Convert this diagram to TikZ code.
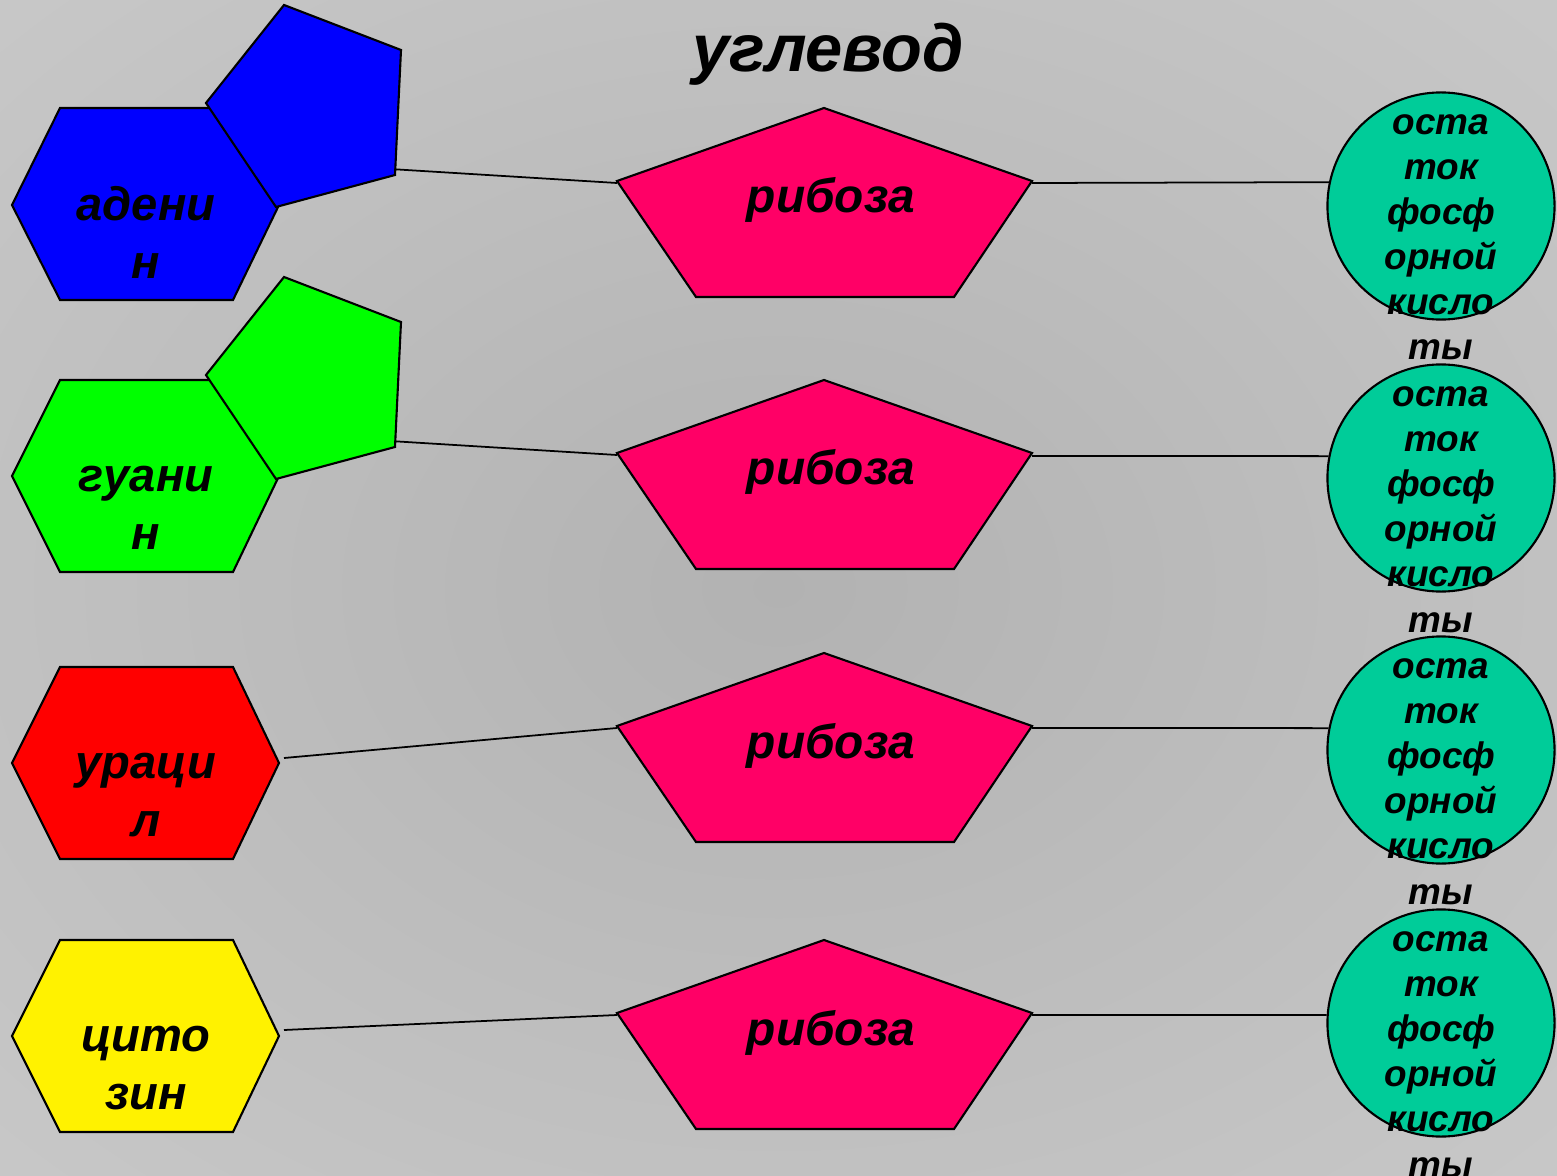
\documentclass[tikz,border=0pt]{standalone}
\usepackage{fontspec}
\setmainfont{Liberation Sans}
\pgfdeclarelayer{bglayer}
\pgfdeclarelayer{edgelayer}
\pgfdeclarelayer{nodelayer}
\pgfsetlayers{bglayer,edgelayer,nodelayer,main}
\definecolor{ribose}{RGB}{255,0,102}
\definecolor{acid}{RGB}{0,204,153}
\definecolor{bglight}{RGB}{218,218,218}
\definecolor{bgdark}{RGB}{178,178,178}
\pgfdeclareradialshading{slide}{\pgfpoint{0bp}{0bp}}{color(0bp)=(bgdark); color(66bp)=(bglight)}
\tikzstyle{ring_shape}=[draw=black,line width=0.6pt,line join=miter]
\tikzstyle{sugar_shape}=[draw=black,line width=0.6pt,fill=ribose]
\tikzstyle{acid_state}=[circle,draw=black,line width=0.6pt,fill=acid,minimum size=2.27cm,inner sep=0pt]
\tikzstyle{base_text}=[anchor=base,align=center,inner sep=0pt,font=\fontsize{13.4}{16.3}\selectfont\bfseries\itshape]
\tikzstyle{sugar_text}=[anchor=base,inner sep=0pt,font=\fontsize{13.6}{16}\selectfont\bfseries\itshape]
\tikzstyle{acid_text}=[anchor=base,align=center,inner sep=0pt,font=\fontsize{10.5}{12.8}\selectfont\bfseries\itshape]
\tikzstyle{title_text}=[anchor=base,inner sep=0pt,font=\fontsize{19}{22}\selectfont\bfseries\itshape]
\tikzstyle{link}=[draw=black,line width=0.5pt]

\begin{document}
\begin{tikzpicture}[x=0.01cm,y=-0.01cm]
	\useasboundingbox (0,0) rectangle (1557,1176);
	\begin{pgfonlayer}{bglayer}
		\shade[shading=slide] (0,0) rectangle (1557,1176);
	\end{pgfonlayer}
	\begin{pgfonlayer}{nodelayer}
		% bases
		\draw [style={ring_shape}, fill=blue] (12,205) -- (60,108) -- (233,108) -- (279,205) -- (233,300) -- (60,300) -- cycle;
		\draw [style={ring_shape}, fill=blue] (284,5) -- (401,50) -- (395,175) -- (276,207) -- (206,103) -- cycle;
		\draw [style={ring_shape}, fill=green] (12,476) -- (60,380) -- (233,380) -- (279,476) -- (233,572) -- (60,572) -- cycle;
		\draw [style={ring_shape}, fill=green] (284,277) -- (401,322) -- (395,447) -- (276,479) -- (206,375) -- cycle;
		\draw [style={ring_shape}, fill=red] (12,763) -- (60,667) -- (233,667) -- (279,763) -- (233,859) -- (60,859) -- cycle;
		\draw [style={ring_shape}, fill=yellow] (12,1036) -- (60,940) -- (233,940) -- (279,1036) -- (233,1132) -- (60,1132) -- cycle;
		% sugars
		\draw [style={sugar_shape}] (824,108) -- (1032,181) -- (954,297) -- (696,297) -- (617,181) -- cycle;
		\draw [style={sugar_shape}] (824,380) -- (1032,453) -- (954,569) -- (696,569) -- (617,453) -- cycle;
		\draw [style={sugar_shape}] (824,653) -- (1032,726) -- (954,842) -- (696,842) -- (617,726) -- cycle;
		\draw [style={sugar_shape}] (824,940) -- (1032,1013) -- (954,1129) -- (696,1129) -- (617,1013) -- cycle;
		% phosphates
		\node [style={acid_state}] (9) at (1441,206) {};
		\node [style={acid_state}] (10) at (1441,478) {};
		\node [style={acid_state}] (11) at (1441,750) {};
		\node [style={acid_state}] (12) at (1441,1023) {};
	\end{pgfonlayer}
	\coordinate (a1) at (390,169);
	\coordinate (a2) at (390,441);
	\coordinate (a3) at (284,758);
	\coordinate (a4) at (284,1030);
	\coordinate (s1) at (617,183);
	\coordinate (s2) at (617,455);
	\coordinate (s3) at (617,728);
	\coordinate (s4) at (617,1015);
	\coordinate (t1) at (1032,183);
	\coordinate (t2) at (1032,456);
	\coordinate (t3) at (1032,728);
	\coordinate (t4) at (1032,1015);
	\begin{pgfonlayer}{edgelayer}
		\draw [style=link] (a1) to (s1);
		\draw [style=link] (a2) to (s2);
		\draw [style=link] (a3) to (s3);
		\draw [style=link] (a4) to (s4);
		\draw [style=link] (t1) to (9.168);
		\draw [style=link] (t2) to (10.169);
		\draw [style=link] (t3) to (11.169);
		\draw [style=link] (t4) to (12.176);
	\end{pgfonlayer}
	\node [style={title_text}] (0) at (828,72) {углевод};
	\node [style={base_text}] (1) at (146,278) {адени\\н};
	\node [style={base_text}] (2) at (146,549) {гуани\\н};
	\node [style={base_text}] (3) at (146,836) {ураци\\л};
	\node [style={base_text}] (4) at (146,1109) {цито\\зин};
	\node [style={sugar_text}] (5) at (831,213) {рибоза};
	\node [style={sugar_text}] (6) at (831,485) {рибоза};
	\node [style={sugar_text}] (7) at (831,758) {рибоза};
	\node [style={sugar_text}] (8) at (831,1045) {рибоза};
	\node [style={acid_text}] (13) at (1441,360) {оста\\ток\\фосф\\орной\\кисло\\ты};
	\node [style={acid_text}] (14) at (1441,632) {оста\\ток\\фосф\\орной\\кисло\\ты};
	\node [style={acid_text}] (15) at (1441,904) {оста\\ток\\фосф\\орной\\кисло\\ты};
	\node [style={acid_text}] (16) at (1441,1177) {оста\\ток\\фосф\\орной\\кисло\\ты};
\end{tikzpicture}
\end{document}
